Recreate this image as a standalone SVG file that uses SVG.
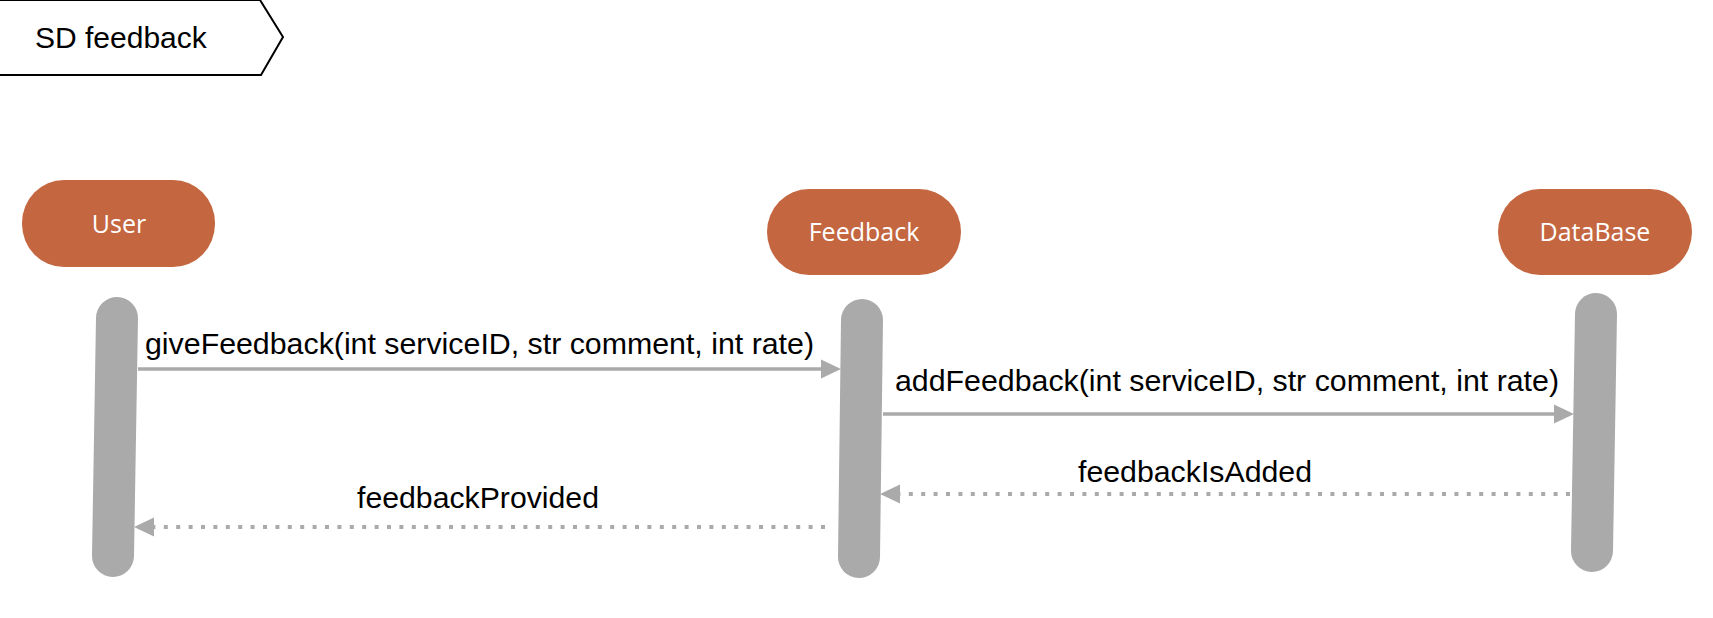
<svg xmlns="http://www.w3.org/2000/svg" width="1713" height="618" viewBox="0 0 1713 618">
<style>
.node{fill:#c4663f;}
.ntext{font-family:"Open Sans","Noto Sans",sans-serif;font-size:25px;fill:#ffffff;text-anchor:middle;}
.bar{stroke:#aaaaaa;stroke-width:42;stroke-linecap:round;fill:none;}
.msg{stroke:#aaaaaa;stroke-width:3.5;fill:none;}
.ret{stroke:#aaaaaa;stroke-width:4;fill:none;stroke-dasharray:4 8.4;}
.lbl{font-family:"Liberation Sans",Arial,Helvetica,sans-serif;font-size:29px;fill:#000000;}
.title{font-family:"Liberation Sans",Arial,Helvetica,sans-serif;font-size:30px;fill:#000000;}
</style>
<defs>
<marker id="ah" markerUnits="userSpaceOnUse" markerWidth="20" markerHeight="20" refX="0" refY="9.5" orient="auto" viewBox="0 0 20 19">
<path d="M0,0 L20,9.5 L0,19 Z" fill="#aaaaaa"/>
</marker>
</defs>
<rect width="1713" height="618" fill="#ffffff"/>
<g id="frame">
<polygon points="-3,0 260,0 283,37 261,75 -3,75" fill="#ffffff" stroke="#000000" stroke-width="2"/>
<text class="title" x="35" y="48">SD feedback</text>
</g>
<g id="user">
<rect class="node" x="22" y="180" width="193" height="87" rx="42" ry="43"/>
<text class="ntext" x="119" y="233">User</text>
<line class="bar" x1="117" y1="318" x2="113" y2="556"/>
</g>
<g id="feedback">
<rect class="node" x="767" y="189" width="194" height="86" rx="42" ry="43"/>
<text class="ntext" x="864" y="241">Feedback</text>
<line class="bar" x1="862" y1="320" x2="859" y2="557"/>
</g>
<g id="database">
<rect class="node" x="1498" y="189" width="194" height="86" rx="42" ry="43"/>
<text class="ntext" x="1595" y="241">DataBase</text>
<line class="bar" x1="1596" y1="314" x2="1592" y2="551"/>
</g>
<g id="connectors">
<line class="msg" x1="138" y1="369" x2="821" y2="369" marker-end="url(#ah)"/>
<text class="lbl" x="145" y="354" textLength="669" lengthAdjust="spacingAndGlyphs">giveFeedback(int serviceID, str comment, int rate)</text>
<line class="msg" x1="883" y1="414" x2="1554" y2="414" marker-end="url(#ah)"/>
<text class="lbl" x="895" y="391" textLength="664" lengthAdjust="spacingAndGlyphs">addFeedback(int serviceID, str comment, int rate)</text>
<line class="ret" x1="1570" y1="494" x2="900" y2="494" marker-end="url(#ah)"/>
<text class="lbl" x="1078" y="482" textLength="234" lengthAdjust="spacingAndGlyphs">feedbackIsAdded</text>
<line class="ret" x1="825" y1="527" x2="154" y2="527" marker-end="url(#ah)"/>
<text class="lbl" x="357" y="508" textLength="242" lengthAdjust="spacingAndGlyphs">feedbackProvided</text>
</g>
</svg>
